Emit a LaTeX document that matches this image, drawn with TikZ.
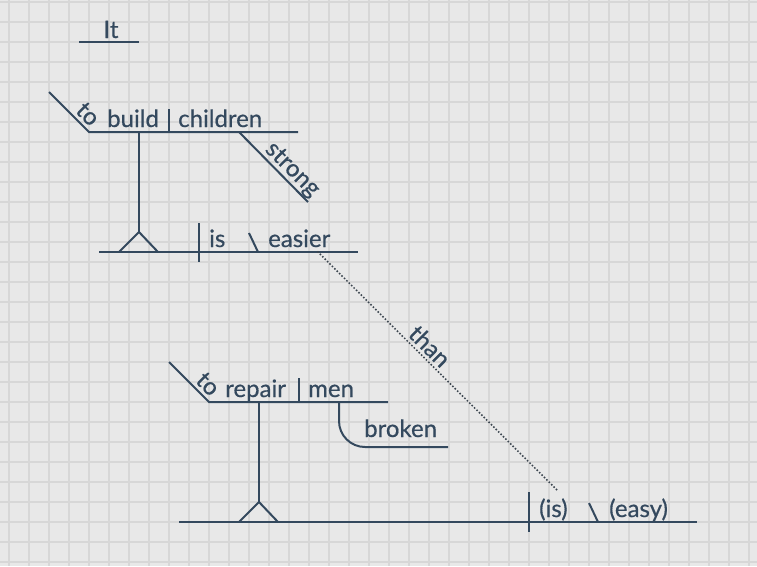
\documentclass[tikz,border=0pt]{standalone}
\usepackage{fontspec}
\setmainfont{Lato}
\newfontfamily\wordfont[FakeBold=0.5]{Lato}
\definecolor{ink}{HTML}{34495E}
\definecolor{bg}{HTML}{E8E8E8}
\definecolor{gridc}{HTML}{D7D7D7}
\definecolor{dotc}{HTML}{3C4650}
\begin{document}
\begin{tikzpicture}[x=1pt,y=-1pt,
  rule/.style={draw=ink, line width=2pt},
  tie/.style={draw=dotc, line width=2.2pt, line cap=round, dash pattern=on 0pt off 3.4pt},
  word/.style={text=ink, font=\wordfont\fontsize{24}{24}\selectfont, inner sep=0pt, anchor=base west},
  slant/.style={text=ink, font=\wordfont\fontsize{24}{24}\selectfont, inner sep=0pt, anchor=center, rotate=-45}]
\fill[bg] (0,0) rectangle (757,566);
\useasboundingbox (0,0) rectangle (757,566);
\foreach \x in {9,29,...,749} \draw[gridc, line width=1.5pt] (\x,0) -- (\x,566);
\foreach \y in {2,22,...,562} \draw[gridc, line width=1.5pt] (0,\y) -- (757,\y);

% It
\coordinate (it1) at (79,42); \coordinate (it2) at (139,42);
\draw[rule] (it1) -- (it2);
\node[word, anchor=base] (It) at (111,38) {It};

% clause 1
\coordinate (a0) at (49,92); \coordinate (a1) at (89,132); \coordinate (a2) at (298,132);
\coordinate (ad1) at (169,109); \coordinate (ad2) at (169,132);
\coordinate (as1) at (139,132); \coordinate (as2) at (139,232);
\coordinate (at1) at (119,252); \coordinate (at2) at (158,252);
\coordinate (m1) at (99,252); \coordinate (m2) at (358,252);
\coordinate (md1) at (199,223); \coordinate (md2) at (199,262);
\coordinate (mb1) at (249,233); \coordinate (mb2) at (258,252);
\coordinate (s1) at (239,132); \coordinate (s2) at (308,202);
\draw[rule] (a0) -- (a1) -- (a2);
\draw[rule] (ad1) -- (ad2);
\draw[rule] (as1) -- (as2);
\draw[rule] (at1) -- (as2) -- (at2);
\draw[rule] (m1) -- (m2);
\draw[rule] (md1) -- (md2);
\draw[rule] (mb1) -- (mb2);
\draw[rule] (s1) -- (s2);
\node[slant] (to1) at (88,114) {to};
\node[word] (build) at (107,127) {build};
\node[word] (children) at (178,127) {children};
\node[slant] (strong) at (292,170) {strong};
\node[word] (is1) at (209,247) {is};
\node[word] (easier) at (268,247) {easier};

% clause 2
\coordinate (b0) at (169,362); \coordinate (b1) at (209,402); \coordinate (b2) at (388,402);
\coordinate (bd1) at (299,378); \coordinate (bd2) at (299,402);
\coordinate (bs1) at (259,402); \coordinate (bs2) at (259,502);
\coordinate (bt1) at (239,522); \coordinate (bt2) at (278,522);
\coordinate (n1) at (179,522); \coordinate (n2) at (697,522);
\coordinate (nd1) at (529,492); \coordinate (nd2) at (529,532);
\coordinate (nb1) at (589,503); \coordinate (nb2) at (598,522);
\coordinate (br1) at (339,402); \coordinate (br2) at (339,447); \coordinate (br3) at (448,447);
\draw[rule] (b0) -- (b1) -- (b2);
\draw[rule] (bd1) -- (bd2);
\draw[rule] (bs1) -- (bs2);
\draw[rule] (bt1) -- (bs2) -- (bt2);
\draw[rule] (n1) -- (n2);
\draw[rule] (nd1) -- (nd2);
\draw[rule] (nb1) -- (nb2);
\draw[rule, rounded corners=26pt] (br1) -- (br2) -- (br3);
\node[slant] (to2) at (208,384) {to};
\node[word] (repair) at (225,397) {repair};
\node[word] (men) at (308,397) {men};
\node[word] (broken) at (364,437) {broken};
\node[word] (is2) at (539,517) {(is)};
\node[word] (easy) at (609,517) {(easy)};

% than
\coordinate (d1) at (318,252); \coordinate (d2) at (558,491);
\draw[tie] (d1) -- (d2);
\node[slant] (than) at (430,346) {than};
\end{tikzpicture}
\end{document}
